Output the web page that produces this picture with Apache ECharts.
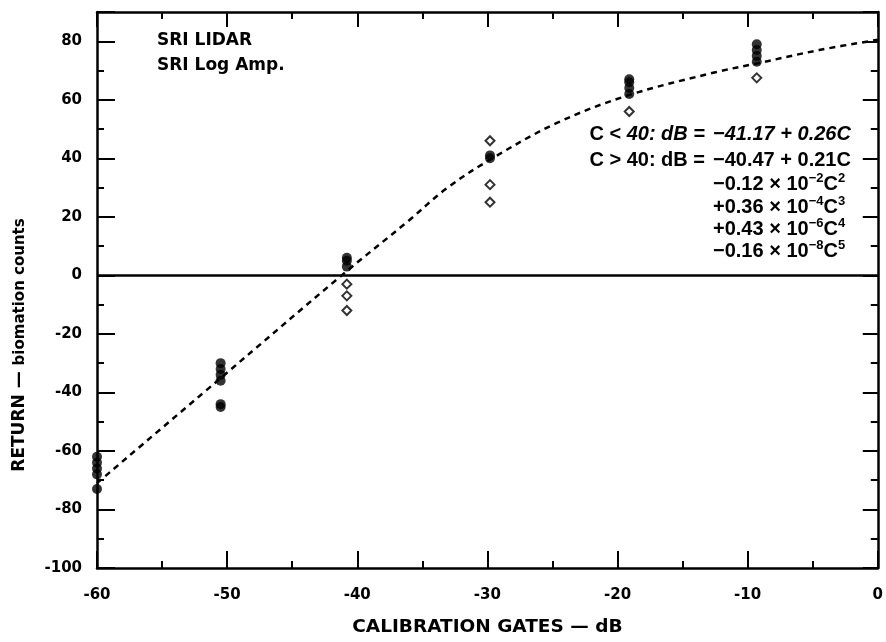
<!DOCTYPE html>
<html><head><meta charset="utf-8">
<script src="https://cdn.jsdelivr.net/npm/echarts@6/dist/echarts.min.js"></script>
<style>html,body{margin:0;padding:0;background:#fff}#c{width:886px;height:642px}</style>
</head><body><div id="c"></div>
<script>
// ---- data ----
const gatesFilled = [
  [-60, [-62, -64, -66, -68, -73]],
  [-50.5, [-30, -32, -34, -36, -44, -45]],
  [-40.8, [6, 5, 3]],
  [-29.8, [41, 40]],
  [-19.1, [67, 66, 64, 62]],
  [-9.3, [79, 77, 75, 73]]
];
const gatesOpen = [
  [-40.8, [-3, -7, -12]],
  [-29.8, [46, 31, 25]],
  [-19.1, [56]],
  [-9.3, [67.5]]
];
const fitCurve = [[-60,-71],[-50.6,-35.5],[-41.2,0],[-36.1,18.5],[-33.2,29.5],[-30,39],[-24.7,52],[-19.2,61.5],[-12.4,69.5],[-9.2,72.5],[-4.5,77],[0,80.5]];
const xTicks = [-60, -50, -40, -30, -20, -10, 0];
const yTicks = [-100, -80, -60, -40, -20, 0, 20, 40, 60, 80];
const legendText = ['SRI LIDAR', 'SRI Log Amp.'];
const eqPrefix = ['{n|C < }{i|40: dB =}', '{n|C > 40: dB =}'];
const eqTerms = [
  '{i|−41.17 + 0.26C}',
  '{n|−40.47 + 0.21C}',
  '{n|−0.12 × 10}{s|−2}{n|C}{s|2}',
  '{n|+0.36 × 10}{s|−4}{n|C}{s|3}',
  '{n|+0.43 × 10}{s|−6}{n|C}{s|4}',
  '{n|−0.16 × 10}{s|−8}{n|C}{s|5}'
];
const xName = 'CALIBRATION GATES — dB';
const yName = '{a|RETURN — }{b|biomation counts}';

const flat = g => g.flatMap(([x, ys]) => ys.map(y => [x, y]));
const FONT = '"Liberation Sans", Arial, sans-serif';
const DJ = '"DejaVu Sans", sans-serif';
const eqRich = {
  n: {fontFamily: FONT, fontWeight: 'bold', fontSize: 20, lineHeight: 25, color: '#000'},
  i: {fontFamily: FONT, fontWeight: 'bold', fontStyle: 'italic', fontSize: 20, lineHeight: 25, color: '#000'},
  s: {fontFamily: FONT, fontWeight: 'bold', fontSize: 13, lineHeight: 14, verticalAlign: 'top', color: '#000'}
};
const chart = echarts.init(document.getElementById('c'), null, {renderer: 'canvas'});
const lineS = {show: true, lineStyle: {color: '#000', width: 2.5}};
const tk = (len) => ({inside: true, length: len, lineStyle: {width: 2, color: '#000'}});
const mtk = {show: true, splitNumber: 2, length: 7, lineStyle: {width: 2, color: '#000'}};
const baseX = {type: 'value', min: -60, max: 0, interval: 10,
  axisLine: {...lineS, onZero: false}, splitLine: {show: false}};
const baseY = {type: 'value', min: -100, max: 90, interval: 20,
  axisLine: {...lineS, onZero: false}, splitLine: {show: false}};
const lbl = {fontFamily: DJ, fontWeight: 'bold', fontSize: 15, color: '#000'};
chart.setOption({
  animation: false,
  grid: {left: 97, right: 3, top: 12, bottom: 71, containLabel: false},
  xAxis: [
    {...baseX, position: 'bottom',
     name: xName, nameLocation: 'middle', nameGap: 50,
     nameTextStyle: {fontFamily: DJ, fontWeight: 'bold', fontSize: 18.5, color: '#000'},
     axisTick: tk(17), minorTick: mtk,
     axisLabel: {...lbl, margin: 20, formatter: v => xTicks.includes(v) ? String(v) : ''}},
    {...baseX, position: 'top', axisTick: tk(15), minorTick: mtk, axisLabel: {show: false}}
  ],
  yAxis: [
    {...baseY, position: 'left', axisTick: tk(18), minorTick: mtk,
     axisLabel: {...lbl, margin: 15, formatter: v => yTicks.includes(v) ? String(v) : ''}},
    {...baseY, position: 'right', axisTick: tk(15), minorTick: mtk, axisLabel: {show: false}}
  ],
  series: [
    {type: 'line', data: fitCurve, smooth: 0.35, symbol: 'none', silent: true,
     lineStyle: {color: '#000', width: 2.5, type: [6, 5]},
     markLine: {symbol: 'none', silent: true, label: {show: false},
       lineStyle: {color: '#000', width: 2.5, type: 'solid'}, data: [{yAxis: 0}]}},
    {type: 'scatter', data: flat(gatesFilled), symbol: 'circle', symbolSize: 10,
     itemStyle: {color: '#000'}},
    {type: 'scatter', data: flat(gatesOpen), symbol: 'diamond', symbolSize: 9,
     itemStyle: {color: '#fff', borderColor: '#000', borderWidth: 2}}
  ],
  graphic: [
    {type: 'text', x: 20, y: 345, rotation: Math.PI / 2,
     style: {text: yName, align: 'center', verticalAlign: 'middle',
       rich: {a: {fontFamily: DJ, fontWeight: 'bold', fontSize: 17, color: '#000'},
              b: {fontFamily: DJ, fontWeight: 'bold', fontSize: 15, color: '#000'}}}},
    ...legendText.map((t, i) => ({type: 'text', x: 157, y: 41 + i * 25,
      style: {text: t, font: 'bold 17px ' + DJ, fill: '#000', verticalAlign: 'middle'}})),
    ...eqPrefix.map((t, i) => ({type: 'text', x: 705, y: [134, 160][i],
      style: {text: t, rich: eqRich, align: 'right', verticalAlign: 'middle'}})),
    ...eqTerms.map((t, i) => ({type: 'text', x: 713, y: [134, 160, 184, 207, 229, 251][i],
      style: {text: t, rich: eqRich, align: 'left', verticalAlign: 'middle'}}))
  ]
});
</script></body></html>
